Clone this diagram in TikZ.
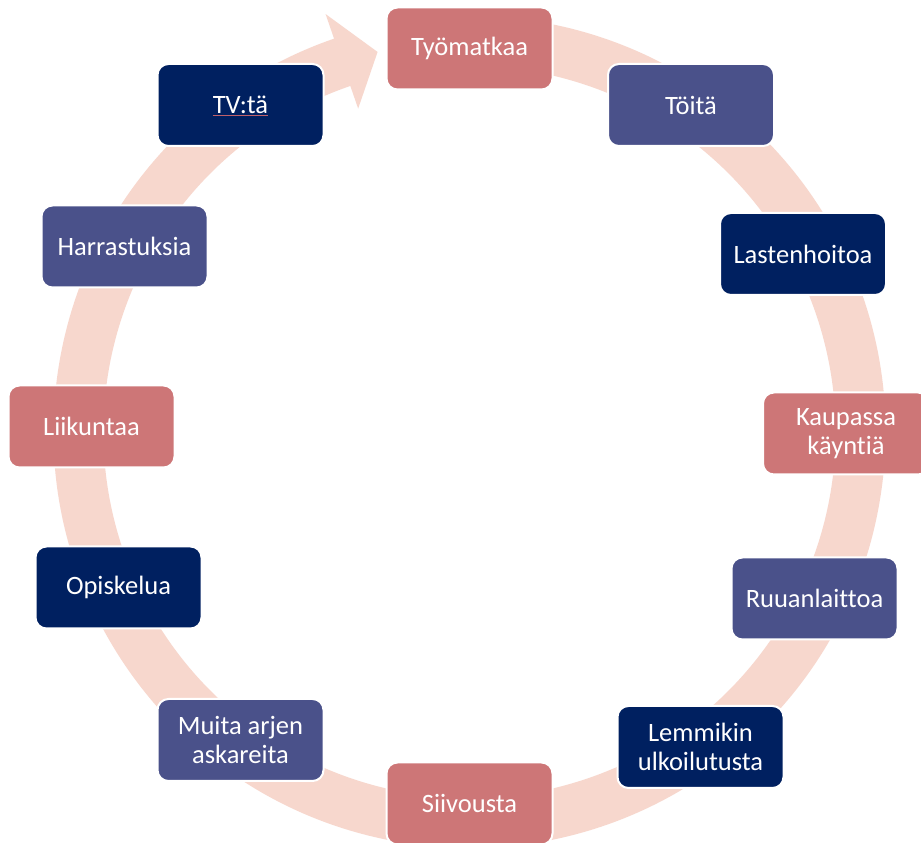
\documentclass[tikz,border=0pt]{standalone}
\usepackage{fontspec}
\setmainfont{Carlito}[Ligatures=NoCommon]
\usetikzlibrary{shapes.misc}
\definecolor{ringpink}{HTML}{F7D7CD}
\definecolor{rosebox}{HTML}{CD7677}
\definecolor{slatebox}{HTML}{4A518A}
\definecolor{navybox}{HTML}{002060}
\definecolor{spellred}{HTML}{C0606A}
\tikzset{
  cyclebox/.style={rectangle, rounded corners=11pt, draw=white, line width=2pt,
    minimum width=166pt, minimum height=82pt, inner sep=0pt,
    text=white, align=center,
    font=\fontsize{26.5}{29.5}\selectfont},
  rosestep/.style={cyclebox, fill=rosebox},
  slatestep/.style={cyclebox, fill=slatebox},
  navystep/.style={cyclebox, fill=navybox},
  boxtext/.style={inner sep=0pt, text=white, font=\fontsize{26.5}{29.5}\selectfont},
  spellmark/.style={draw=spellred, line width=0.7pt}
}
\begin{document}
\begin{tikzpicture}[x=1pt,y=1pt]
\useasboundingbox (0,0) rectangle (921,843);
\fill[white] (0,0) rectangle (921,843);

% circular band with its arrow head, running clockwise
\begin{scope}[shift={(469.5,411)}]
  \fill[ringpink] (80:416) arc[start angle=80, end angle=-251, radius=416]
    -- (-251:442) -- (-256.4:391) -- (-251:342) -- (-251:366)
    arc[start angle=-251, end angle=80, radius=366] -- cycle;
\end{scope}

% activity boxes
\node[rosestep]  (tyomatka) at (469.5,794.5) {Työmatkaa};
\node[slatestep] (toita)    at (691,738)     {Töitä};
\node[navystep]  (lasten)   at (803,589)     {Lastenhoitoa};
\node[rosestep]  (kauppa)   at (846,409.5)   {Kaupassa\\käyntiä};
\node[slatestep] (ruoka)    at (814.5,244.5) {Ruuanlaittoa};
\node[navystep]  (lemmikki) at (700.5,96)    {Lemmikin\\ulkoilutusta};
\node[rosestep]  (siivous)  at (469.5,39.5)  {Siivousta};
\node[slatestep] (muita)    at (240.5,103)   {Muita arjen\\askareita};
\node[navystep]  (opiskelu) at (118.5,255.5) {Opiskelua};
\node[rosestep]  (liikunta) at (91.5,416.5)  {Liikuntaa};
\node[slatestep] (harrastus) at (124.5,596.5) {Harrastuksia};
\node[navystep]  (tv)       at (240.5,738)   {};
\node[boxtext]   (tvtext)   at (tv)          {TV:tä};
\draw[spellmark] ([yshift=-1.6pt]tvtext.base west) -- ([yshift=-1.6pt]tvtext.base east);
\end{tikzpicture}
\end{document}
